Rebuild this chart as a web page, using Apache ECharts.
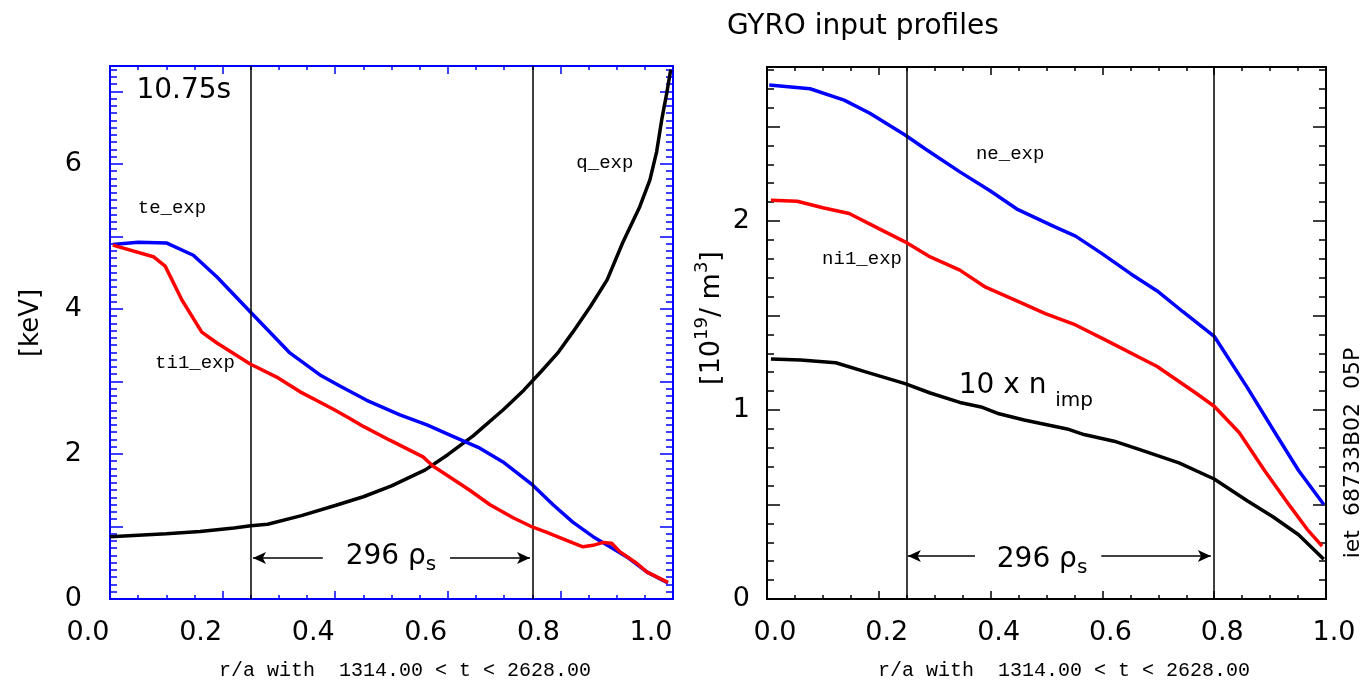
<!DOCTYPE html>
<html><head><meta charset="utf-8">
<script src="https://cdn.jsdelivr.net/npm/echarts@6/dist/echarts.min.js"></script>
<style>html,body{margin:0;padding:0;background:#fff}#c{width:1362px;height:683px}</style>
</head><body><div id="c"></div>
<script>
// ---- Left panel: temperatures [keV] and q vs r/a ----
const teR   = [0.005,0.05,0.10,0.148,0.19,0.249,0.32,0.373,0.41,0.456,0.515,0.563,0.604,0.657,0.698,0.751,0.787,0.822,0.858,0.888,0.918,0.954,0.991];
const teExp = [4.89,4.92,4.91,4.74,4.44,3.96,3.39,3.09,2.93,2.74,2.54,2.40,2.26,2.08,1.89,1.57,1.30,1.06,0.86,0.72,0.58,0.37,0.22];
const tiR   = [0.005,0.077,0.098,0.128,0.163,0.19,0.249,0.296,0.337,0.396,0.426,0.45,0.497,0.556,0.574,0.598,0.639,0.675,0.716,0.751,0.776,0.811,0.84,0.858,0.876,0.891,0.906,0.936,0.954,0.991];
const ti1Exp= [4.88,4.72,4.59,4.12,3.68,3.53,3.24,3.06,2.86,2.62,2.49,2.38,2.19,1.96,1.83,1.71,1.50,1.30,1.12,0.99,0.92,0.81,0.72,0.74,0.78,0.77,0.65,0.49,0.37,0.23];
const qR    = [0.0,0.05,0.10,0.16,0.22,0.25,0.28,0.34,0.40,0.45,0.50,0.56,0.60,0.645,0.70,0.735,0.765,0.795,0.822,0.853,0.883,0.911,0.941,0.959,0.971,0.980,0.989,0.996];
const qExp  = [0.86,0.88,0.90,0.93,0.98,1.01,1.03,1.15,1.29,1.41,1.56,1.78,1.99,2.25,2.62,2.88,3.13,3.39,3.68,4.03,4.40,4.92,5.41,5.78,6.17,6.61,6.98,7.30];
const leftMarkers = [0.249, 0.751];

// ---- Right panel: densities [10^19/m^3] vs r/a ----
const neR   = [0.004,0.077,0.138,0.184,0.247,0.284,0.345,0.399,0.449,0.514,0.552,0.598,0.651,0.698,0.744,0.80,0.859,0.913,0.951,0.996];
const neExp = [2.72,2.70,2.64,2.57,2.455,2.38,2.26,2.16,2.06,1.97,1.92,1.83,1.72,1.63,1.52,1.39,1.12,0.86,0.68,0.50];
const niR   = [0.007,0.054,0.10,0.147,0.20,0.247,0.292,0.345,0.391,0.453,0.498,0.552,0.606,0.698,0.767,0.80,0.845,0.89,0.936,0.966,0.993];
const ni1Exp= [2.11,2.105,2.07,2.04,1.96,1.89,1.81,1.74,1.65,1.57,1.51,1.45,1.37,1.23,1.09,1.02,0.88,0.68,0.49,0.37,0.28];
const nimpR = [0.007,0.06,0.123,0.184,0.247,0.292,0.345,0.383,0.415,0.46,0.537,0.567,0.621,0.667,0.737,0.80,0.859,0.905,0.951,0.996];
const nimp10= [1.27,1.265,1.25,1.195,1.14,1.09,1.04,1.016,0.98,0.947,0.90,0.87,0.835,0.79,0.72,0.635,0.52,0.435,0.34,0.21];
const rightMarkers = [0.247, 0.80];

const xTitle = 'r/a with  1314.00 < t < 2628.00';

const zip = (a, b) => a.map((v, i) => [v, b[i]]);
const BLUE = '#0000ff', RED = '#ff0000', BLACK = '#000000';
const SANS = 'DejaVu Sans', MONO = 'Liberation Mono';
const LW = 3.5;

function xAx(grid, pos, color, showLabels, pad) {
  return {
    type: 'value', gridIndex: grid, position: pos, min: 0, max: 1, interval: 0.2,
    axisLine: {show: true, onZero: false, lineStyle: {color: color, width: 2}},
    axisTick: {show: true, inside: true, length: 8, lineStyle: {color: color, width: 1.5}},
    minorTick: {show: true, splitNumber: 4, length: 4, lineStyle: {color: color, width: 1.5}},
    splitLine: {show: false}, minorSplitLine: {show: false},
    axisLabel: {show: showLabels, margin: 20, color: '#000', fontFamily: SANS, fontSize: 27,
      padding: pad, showMinLabel: true, showMaxLabel: true, formatter: v => v.toFixed(1)}
  };
}
function yAx(grid, pos, color, max, interval, len, labelFn, margin) {
  return {
    type: 'value', gridIndex: grid, position: pos, min: 0, max: max, interval: interval,
    axisLine: {show: true, onZero: false, lineStyle: {color: color, width: 2}},
    axisTick: {show: true, inside: true, length: len, lineStyle: {color: color, width: 1.5}},
    splitLine: {show: false},
    axisLabel: {show: !!labelFn, margin: margin || 8, color: '#000', fontFamily: SANS, fontSize: 27,
      showMinLabel: true, showMaxLabel: true, formatter: labelFn || (() => '')}
  };
}
const evenInt = v => { const r = Math.round(v); return (Math.abs(v - r) < 1e-6 && r % 2 === 0) ? String(r) : ''; };
const anyInt = v => { const r = Math.round(v); return (Math.abs(v - r) < 1e-6) ? String(r) : ''; };

const markerLines = (xs) => xs.map(x => ({xAxis: x}));
const arrow = (x0, x1, y) => [{coord: [x0, y]}, {coord: [x1, y]}];

function note(coord, text, font, size, rich) {
  return {coord: coord, symbol: 'circle', symbolSize: 1, itemStyle: {color: 'rgba(0,0,0,0)'},
    label: {show: true, position: 'inside', formatter: text, color: '#000', fontFamily: font, fontSize: size, rich: rich}};
}
const rhoRich = {
  a: {fontFamily: SANS, fontSize: 28, color: '#000', lineHeight: 36},
  s: {fontFamily: SANS, fontSize: 20, color: '#000', lineHeight: 20, verticalAlign: 'bottom'}
};
const impRich = {
  a: {fontFamily: SANS, fontSize: 28, color: '#000', lineHeight: 50},
  s: {fontFamily: SANS, fontSize: 20, color: '#000', lineHeight: 20, verticalAlign: 'bottom'}
};

const mlBase = {silent: true, symbol: ['none', 'none'], label: {show: false}, animation: false};

const option = {
  animation: false,
  backgroundColor: '#fff',
  title: {text: 'GYRO input profiles', left: 722, top: 8,
    textStyle: {fontFamily: SANS, fontSize: 28, fontWeight: 'normal', color: '#000'}},
  grid: [
    {left: 110, top: 66, width: 563, height: 533, containLabel: false, outerBoundsMode: 'none'},
    {left: 767, top: 67, width: 559, height: 532, containLabel: false, outerBoundsMode: 'none'}
  ],
  xAxis: [
    xAx(0, 'bottom', BLUE, true, [0, 44, 0, 0]),
    xAx(0, 'top', BLUE, false),
    xAx(1, 'bottom', BLACK, true, [0, 0, 0, 16]),
    xAx(1, 'top', BLACK, false)
  ],
  yAxis: [
    yAx(0, 'left', BLUE, 7.35, 1, 13, evenInt, 28),
    yAx(0, 'left', BLUE, 7.35, 0.1, 7),
    yAx(0, 'right', BLUE, 7.35, 1, 13),
    yAx(0, 'right', BLUE, 7.35, 0.1, 7),
    yAx(1, 'left', BLACK, 2.815, 0.5, 13, anyInt, 17),
    yAx(1, 'left', BLACK, 2.815, 0.1, 7),
    yAx(1, 'right', BLACK, 2.815, 0.5, 13),
    yAx(1, 'right', BLACK, 2.815, 0.1, 7)
  ],
  series: [
    {name: 'q_exp', type: 'line', xAxisIndex: 0, yAxisIndex: 0, data: zip(qR, qExp),
      showSymbol: false, lineStyle: {color: BLACK, width: LW}, itemStyle: {color: BLACK}, z: 3,
      markLine: Object.assign({}, mlBase, {lineStyle: {color: BLACK, width: 1.5, type: 'solid'},
        data: markerLines(leftMarkers)}),
      markPoint: {silent: true, animation: false, data: [
        note([0.879, 6.01], 'q_exp', MONO, 19),
        note([0.131, 7.01], '10.75s', SANS, 28)
      ]}},
    {name: 'te_exp', type: 'line', xAxisIndex: 0, yAxisIndex: 0, data: zip(teR, teExp),
      showSymbol: false, lineStyle: {color: BLUE, width: LW}, itemStyle: {color: BLUE}, z: 4,
      markLine: {silent: true, animation: false, symbol: ['none', 'arrow'], symbolSize: [9, 13],
        label: {show: false}, lineStyle: {color: BLACK, width: 1.5, type: 'solid'},
        data: [arrow(0.378, 0.254, 0.566), arrow(0.604, 0.746, 0.566)]},
      markPoint: {silent: true, animation: false, data: [
        note([0.110, 5.39], 'te_exp', MONO, 19),
        note([0.499, 0.58], '{a|296 ρ}{s|s}', SANS, 28, rhoRich)
      ]}},
    {name: 'ti1_exp', type: 'line', xAxisIndex: 0, yAxisIndex: 0, data: zip(tiR, ti1Exp),
      showSymbol: false, lineStyle: {color: RED, width: LW}, itemStyle: {color: RED}, z: 5,
      markPoint: {silent: true, animation: false, data: [
        note([0.151, 3.26], 'ti1_exp', MONO, 19)
      ]}},
    {name: '10 x n_imp', type: 'line', xAxisIndex: 2, yAxisIndex: 4, data: zip(nimpR, nimp10),
      showSymbol: false, lineStyle: {color: BLACK, width: LW}, itemStyle: {color: BLACK}, z: 3,
      markLine: Object.assign({}, mlBase, {lineStyle: {color: BLACK, width: 1.5, type: 'solid'},
        data: markerLines(rightMarkers)}),
      markPoint: {silent: true, animation: false, data: [
        note([0.463, 1.13], '{a|10 x n }{s|imp}', SANS, 28, impRich)
      ]}},
    {name: 'ne_exp', type: 'line', xAxisIndex: 2, yAxisIndex: 4, data: zip(neR, neExp),
      showSymbol: false, lineStyle: {color: BLUE, width: LW}, itemStyle: {color: BLUE}, z: 4,
      markLine: {silent: true, animation: false, symbol: ['none', 'arrow'], symbolSize: [9, 13],
        label: {show: false}, lineStyle: {color: BLACK, width: 1.5, type: 'solid'},
        data: [arrow(0.372, 0.252, 0.228), arrow(0.598, 0.794, 0.228)]},
      markPoint: {silent: true, animation: false, data: [
        note([0.435, 2.355], 'ne_exp', MONO, 19),
        note([0.492, 0.21], '{a|296 ρ}{s|s}', SANS, 28, rhoRich)
      ]}},
    {name: 'ni1_exp', type: 'line', xAxisIndex: 2, yAxisIndex: 4, data: zip(niR, ni1Exp),
      showSymbol: false, lineStyle: {color: RED, width: LW}, itemStyle: {color: RED}, z: 5,
      markPoint: {silent: true, animation: false, data: [
        note([0.170, 1.80], 'ni1_exp', MONO, 19)
      ]}}
  ],
  graphic: [
    {type: 'text', x: 31, y: 323, rotation: Math.PI / 2,
      style: {text: '[keV]', font: '26px "DejaVu Sans"', fill: '#000', align: 'center', verticalAlign: 'middle'}},
    {type: 'text', x: 712, y: 318, rotation: Math.PI / 2,
      style: {text: '{n|[10}{p|19}{n|/ m}{p|3}{n|]}', fill: '#000', align: 'center', verticalAlign: 'middle',
        rich: {n: {fontFamily: SANS, fontSize: 27, lineHeight: 38, fill: '#000'},
               p: {fontFamily: SANS, fontSize: 18, lineHeight: 18, verticalAlign: 'top', fill: '#000'}}}},
    {type: 'text', x: 405, y: 671,
      style: {text: xTitle, font: '20px "Liberation Mono"', fill: '#000', align: 'center', verticalAlign: 'middle'}},
    {type: 'text', x: 1064, y: 671,
      style: {text: xTitle, font: '20px "Liberation Mono"', fill: '#000', align: 'center', verticalAlign: 'middle'}},
    {type: 'text', x: 1353, y: 453, rotation: Math.PI / 2,
      style: {text: 'iet  68733B02  05P', font: '22px "DejaVu Sans"', fill: '#000', align: 'center', verticalAlign: 'middle'}}
  ]
};

const chart = echarts.init(document.getElementById('c'), null, {renderer: 'canvas'});
chart.setOption(option);
</script>
</body></html>
